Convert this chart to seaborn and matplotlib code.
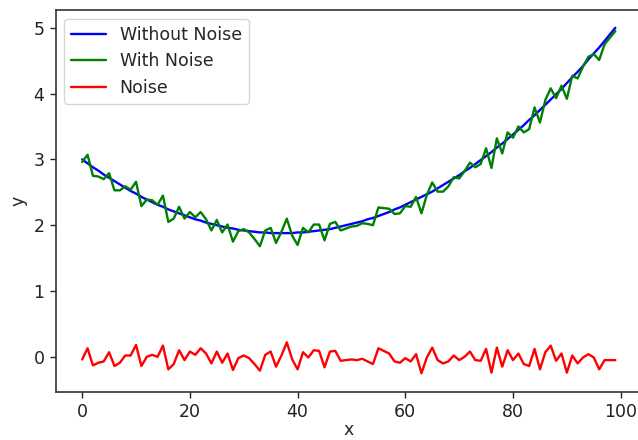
import numpy as np
import pandas as pd
import matplotlib
matplotlib.use("Agg")
import matplotlib.pyplot as plt
import seaborn as sns

# x positions 0..99
x_values = list(range(100))

# smooth curve
without_noise = [
    3.00, 2.94, 2.88, 2.83, 2.77, 2.72, 2.67, 2.62, 2.57, 2.52,
    2.48, 2.43, 2.39, 2.35, 2.31, 2.28, 2.24, 2.21, 2.18, 2.15,
    2.12, 2.09, 2.07, 2.04, 2.02, 2.00, 1.98, 1.96, 1.95, 1.93,
    1.92, 1.91, 1.90, 1.89, 1.89, 1.88, 1.88, 1.88, 1.88, 1.88,
    1.89, 1.89, 1.90, 1.91, 1.92, 1.93, 1.94, 1.96, 1.98, 2.00,
    2.02, 2.04, 2.06, 2.09, 2.11, 2.14, 2.17, 2.20, 2.24, 2.27,
    2.31, 2.35, 2.39, 2.43, 2.47, 2.51, 2.56, 2.61, 2.66, 2.71,
    2.76, 2.82, 2.87, 2.93, 2.99, 3.05, 3.11, 3.18, 3.24, 3.31,
    3.38, 3.45, 3.52, 3.60, 3.67, 3.75, 3.83, 3.91, 3.99, 4.07,
    4.16, 4.25, 4.33, 4.42, 4.52, 4.61, 4.70, 4.80, 4.90, 5.00,
]

# red line
noise = [
    -0.04, 0.13, -0.13, -0.09, -0.07, 0.07, -0.14, -0.09, 0.02, 0.02,
    0.18, -0.14, 0.00, 0.03, 0.00, 0.17, -0.19, -0.11, 0.10, -0.05,
    0.08, 0.03, 0.13, 0.05, -0.10, 0.08, -0.09, 0.05, -0.20, -0.02,
    0.02, -0.02, -0.11, -0.21, 0.03, 0.08, -0.15, 0.02, 0.22, -0.04,
    -0.19, 0.07, -0.01, 0.10, 0.09, -0.16, 0.08, 0.09, -0.06, -0.05,
    -0.04, -0.05, -0.03, -0.07, -0.11, 0.13, 0.09, 0.05, -0.07, -0.09,
    -0.02, -0.07, 0.04, -0.25, -0.01, 0.14, -0.05, -0.10, -0.07, 0.02,
    -0.05, 0.00, 0.08, -0.05, -0.06, 0.12, -0.24, 0.14, -0.15, 0.10,
    -0.05, 0.05, -0.11, -0.14, 0.12, -0.19, 0.07, 0.17, -0.06, 0.05,
    -0.24, 0.02, -0.10, -0.01, 0.04, -0.01, -0.19, -0.05, -0.05, -0.05,
]

df = pd.DataFrame({"x": x_values, "clean": without_noise, "noise": noise})
df["noisy"] = df["clean"] + df["noise"]

sns.set_style("ticks")
plt.rcParams["font.family"] = ["DejaVu Sans"]
plt.rcParams["font.size"] = 12.5

fig = plt.figure(figsize=(6.38, 4.4), dpi=100)
# axes runs slightly past the right edge, like the cropped original
ax = fig.add_axes([55.5 / 638, (440 - 391.7) / 440, (642 - 55.5) / 638, (391.7 - 10) / 440])

sns.lineplot(data=df, x="x", y="clean", color="blue", linewidth=1.7, label="Without Noise", ax=ax)
sns.lineplot(data=df, x="x", y="noisy", color="green", linewidth=1.7, label="With Noise", ax=ax)
sns.lineplot(data=df, x="x", y="noise", color="red", linewidth=1.7, label="Noise", ax=ax)

ax.set_xlim(-4.95, 103.95)
ax.set_ylim(-0.53, 5.27)
ax.set_xticks([0, 20, 40, 60, 80, 100])
ax.set_yticks([0, 1, 2, 3, 4, 5])
ax.tick_params(labelsize=12.5, length=4.5, width=1.0, colors="#222222")
ax.set_xlabel("x", fontsize=12.5, labelpad=0)
ax.set_ylabel("y", fontsize=12.5)
for s in ax.spines.values():
    s.set_linewidth(1.2)
    s.set_color("#333333")

ax.legend(loc="upper left", fontsize=12.5, frameon=True)

fig.savefig("out.png", dpi=100)
